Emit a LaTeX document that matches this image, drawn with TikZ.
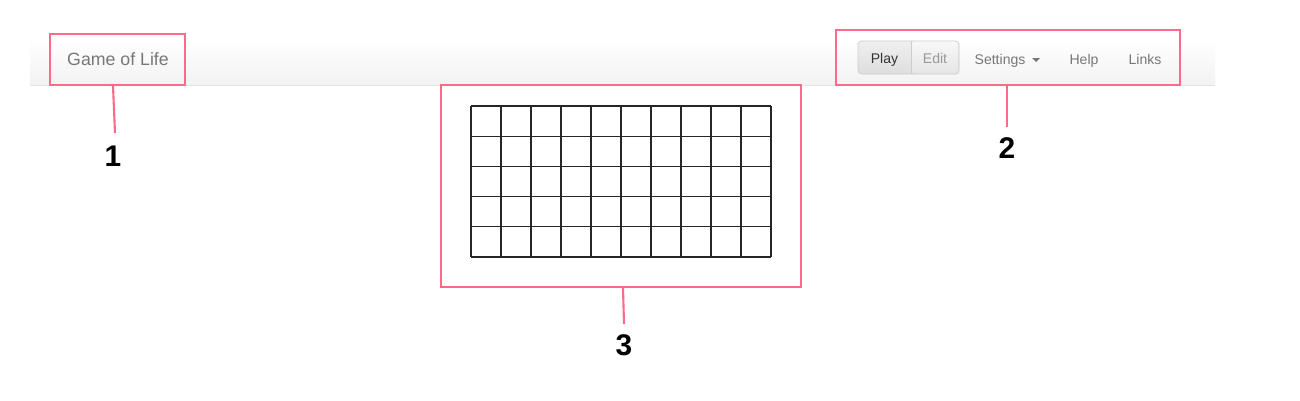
\documentclass[tikz,border=0pt]{standalone}
\usepackage{fontspec}
\setmainfont{Liberation Sans}
\usepackage{tikz}

\definecolor{callout}{HTML}{FB6A8B}
\definecolor{navtext}{HTML}{777777}
\definecolor{navline}{HTML}{E3E3E3}
\definecolor{btnline}{HTML}{CCCCCC}

\tikzset{
  markbox/.style={draw=callout, line width=1.2pt, inner sep=0pt},
  leader/.style={draw=callout, line width=1.2pt},
  marknum/.style={font=\fontsize{17}{17}\selectfont\bfseries, text=black},
  navitem/.style={font=\fontsize{8}{8}\selectfont, text=navtext, anchor=base, inner sep=0pt}
}

\begin{document}
\begin{tikzpicture}[x=0.02cm, y=-0.02cm]
				\useasboundingbox (0,0) rectangle (1300,400);
				% navbar
				\shade[top color=white, bottom color=black!5] (30,38) rectangle (1215,85);
				\draw[navline] (30,85) -- (1215,85);
				% buttons
				\shade[rounded corners=2pt, top color=black!6, bottom color=black!13, draw=btnline] (858,41) rectangle (959,74);
				\shade[rounded corners=2pt, top color=white!97!black, bottom color=black!10] (911.5,41.6) rectangle (958.4,73.4);
				\draw[btnline] (911,41) -- (911,74);
				\node[navitem, text=black!80] (play) at (884.5,63) {Play};
				\node[navitem, text=black!40] (edit) at (935,63) {Edit};
				\node[navitem] (settings) at (1000,64) {Settings};
				\fill[navtext] (1032,58) -- (1040,58) -- (1036,62) -- cycle;
				\node[navitem] (help) at (1084,64) {Help};
				\node[navitem] (links) at (1145,64) {Links};
				\node[navitem, font=\fontsize{10.1}{10.1}\selectfont] (title) at (118,65) {Game of Life};
				% grid
				\foreach \i in {0,...,10}
					\draw[black!85, line width=0.7pt] (471+30*\i,106) -- (471+30*\i,257);
				\foreach \j in {0,...,5}
					\draw[black!85, line width=0.7pt] (471,106+30.2*\j) -- (771,106+30.2*\j);
				% callouts
				\node[markbox, minimum width=2.7cm, minimum height=1.02cm] (brand) at (117.5,59.5) {};
				\node[markbox, minimum width=6.88cm, minimum height=1.1cm] (menu) at (1008,57.5) {};
				\node[markbox, minimum width=7.2cm, minimum height=4.04cm] (board) at (621,186) {};
				\node[marknum] (one) at (113,156) {1};
				\node[marknum] (two) at (1007,148) {2};
				\node[marknum] (three) at (624,345) {3};
				\draw[leader] (brand.south -| 113,0) -- (115,133);
				\draw[leader] (menu.south -| 1007,0) -- (1007,127);
				\draw[leader] (board.south -| 623,0) -- (624,324);
			\end{tikzpicture}
\end{document}
